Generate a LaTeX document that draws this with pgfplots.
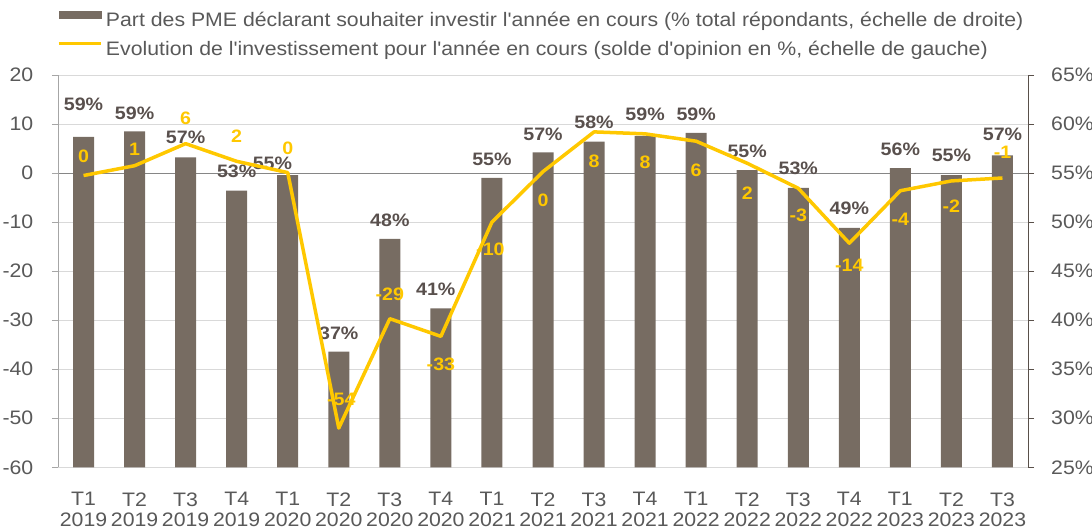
\documentclass[border=0pt]{standalone}
\usepackage{fontspec}
\setmainfont{Liberation Sans}[Ligatures=TeXOff, FakeStretch=1.09]
\usepackage{pgfplots}
\usepackage{pgfplotstable}
\pgfplotsset{compat=1.18}
\definecolor{barcol}{RGB}{119,108,98}
\definecolor{linecol}{RGB}{255,200,0}
\definecolor{txtcol}{RGB}{89,89,89}
\definecolor{lblcol}{RGB}{89,80,77}
\definecolor{gridcol}{RGB}{217,217,217}
\definecolor{zerocol}{RGB}{134,134,134}
\definecolor{laxcol}{RGB}{166,166,166}
\definecolor{raxcol}{RGB}{89,80,74}
\newcommand\chartfont{\fontsize{19.5bp}{21.5bp}\selectfont}
\newcommand\xfont{\fontsize{19.5bp}{20.5bp}\selectfont}
\newcommand\lblfont{\bfseries\fontsize{18bp}{20bp}\selectfont}

\pgfplotstableread{
x  bar    lx    ly     lab
0  58.7   0     61.97  59
1  59.25  1     61.1   59
2  56.6   2     58.6   57
3  53.2   3     55.16  53
4  54.8   3.7   55.95  55
5  36.8   5     38.67  37
6  48.3   6     50.23  48
7  41.2   6.9   43.1   41
8  54.5   8     56.4   55
9  57.1   9     58.98  57
10 58.2   10    60.16  58
11 58.8   11    60.95  59
12 59.1   12    60.95  59
13 55.3   13    57.2   55
14 53.5   14    55.44  53
15 49.4   15    51.36  49
16 55.5   16    57.45  56
17 54.8   17    56.8   55
18 56.8   18    58.9   57
}\bardata

\pgfplotstableread{
x  val    lx    ly     lab
0  -0.5   0     3.5    0
1  1.5    1     4.8    1
2  6      2     11.2   6
3  2.4    3     7.5    2
4  0.1    4     5.0    0
5  -52    5.05  -46.1  -54
6  -29.7  6     -24.8  -29
7  -33.3  7     -39.0  -33
8  -10    7.97  -15.5  -10
9  0.3    9     -5.6   0
10 8.4    10    2.5    8
11 8      11    2.2    8
12 6.5    12    0.5    6
13 2      13    -4.1   2
14 -3.1   14    -8.6   -3
15 -14.3  15    -18.9  -14
16 -3.6   16    -9.4   -4
17 -1.6   17    -6.7   -2
18 -1     18    4.2    -1
}\linedata

\pgfplotsset{
  base/.style={
    width=970bp, height=392.3bp, scale only axis,
    at={(0,0)}, anchor=south west,
    xmin=-0.5, xmax=18.5,
    tick align=outside, major tick length=6bp,
    ticklabel style={font=\chartfont, text=txtcol, inner sep=0pt},
  },
}

\begin{document}
\begin{tikzpicture}
\useasboundingbox (-58bp,-61.7bp) rectangle (1034bp,467.3bp);
\begin{axis}[base,
  ymin=25, ymax=65, ytick={25,30,...,65},
  yticklabels={25\%,30\%,35\%,40\%,45\%,50\%,55\%,60\%,65\%},
  axis y line*=right, axis x line*=bottom,
  x axis line style={draw=none},
  y axis line style={raxcol, line width=0.75bp},
  ytick style={raxcol, line width=0.75bp},
  xtick={0,...,18}, xtick style={draw=none},
  xticklabels={{T1\\2019},{T2\\2019},{T3\\2019},{T4\\2019},{T1\\2020},{T2\\2020},{T3\\2020},{T4\\2020},{T1\\2021},{T2\\2021},{T3\\2021},{T4\\2021},{T1\\2022},{T2\\2022},{T3\\2022},{T4\\2022},{T1\\2023},{T2\\2023},{T3\\2023}},
  xticklabel style={font=\xfont, align=center, anchor=north, yshift=-19bp},
  yticklabel style={anchor=west, xshift=17bp},
  ymajorgrids, major grid style={gridcol, line width=0.75bp},
  extra y ticks={55}, extra y tick labels={},
  extra y tick style={major grid style={zerocol, line width=0.75bp}, major tick length=0pt},
]
\addplot[ybar, bar width=21bp, fill=barcol, draw=none] table[x=x, y=bar] {\bardata};
\addplot[draw=none, nodes near coords={\pgfplotspointmeta\%}, point meta=explicit symbolic,
  every node near coord/.style={font=\lblfont, text=lblcol, inner sep=0pt, anchor=center}]
  table[x=lx, y=ly, meta=lab] {\bardata};
\end{axis}
\begin{axis}[base,
  ymin=-60, ymax=20, ytick={-60,-50,...,20},
  yticklabels={-60,-50,-40,-30,-20,-10,0,10,20},
  axis y line*=left, hide x axis,
  y axis line style={laxcol, line width=0.75bp},
  ytick style={laxcol, line width=0.75bp},
  yticklabel style={anchor=east, xshift=-18.5bp},
  legend cell align=left,
  legend style={at={(axis description cs:0,1)}, anchor=north west, xshift=-1bp, yshift=64bp,
    draw=none, fill=none, inner sep=0pt, outer sep=0pt, row sep=9bp, column sep=3.5bp,
    font=\chartfont, text=txtcol,
    nodes={inner sep=0pt, text height=15bp, text depth=5bp}},
]
\addlegendimage{legend image code/.code={\fill[barcol] (0bp,3.7bp) rectangle (42bp,10.3bp);}}
\addlegendentry{Part des PME déclarant souhaiter investir l'année en cours (\% total répondants, échelle de droite)}
\addplot[linecol, line width=3.5bp, line join=round,
  legend image code/.code={\draw[linecol, line width=3.5bp] (0bp,7bp) -- (42bp,7bp);}]
  table[x=x, y=val] {\linedata};
\addlegendentry{Evolution de l'investissement pour l'année en cours (solde d'opinion en \%, échelle de gauche)}
\addplot[draw=none, nodes near coords, point meta=explicit symbolic,
  every node near coord/.style={font=\lblfont, text=linecol, inner sep=0pt, anchor=center}]
  table[x=lx, y=ly, meta=lab] {\linedata};
\end{axis}
\end{tikzpicture}
\end{document}
